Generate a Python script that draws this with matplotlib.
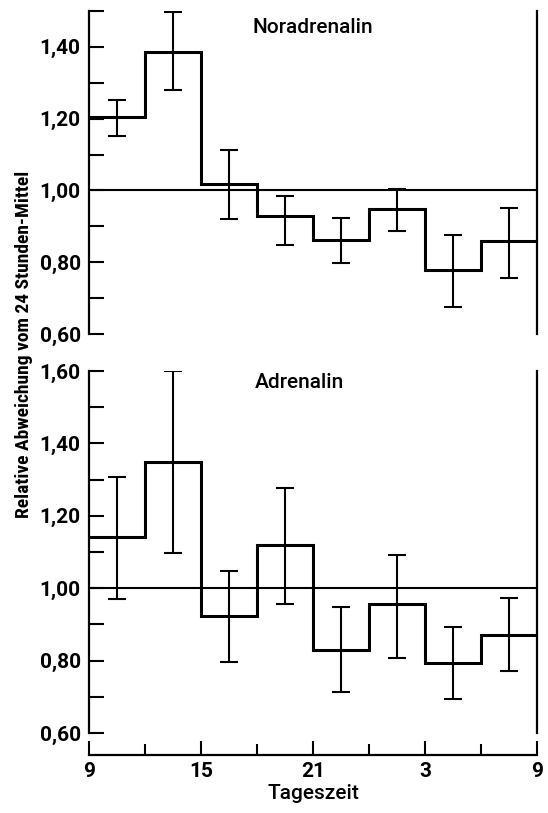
import matplotlib.pyplot as plt
from matplotlib.ticker import MultipleLocator, FixedLocator

plt.rcParams['font.family'] = ['Roboto', 'DejaVu Sans']
plt.rcParams['font.weight'] = 700
plt.rcParams['axes.labelweight'] = 700

# hours after 9 o'clock, 3-hour bins
edges = [0, 3, 6, 9, 12, 15, 18, 21, 24]
centers = [1.5, 4.5, 7.5, 10.5, 13.5, 16.5, 19.5, 22.5]
tick_pos = [0, 6, 12, 18, 24]
tick_labels = ["9", "15", "21", "3", "9"]

# Noradrenalin
nor_val = [1.205, 1.387, 1.018, 0.928, 0.861, 0.948, 0.777, 0.858]
nor_hi = [1.253, 1.497, 1.113, 0.985, 0.923, 1.005, 0.876, 0.951]
nor_lo = [1.151, 1.28, 0.92, 0.849, 0.798, 0.887, 0.674, 0.755]

# Adrenalin
adr_val = [1.141, 1.348, 0.924, 1.118, 0.828, 0.955, 0.793, 0.871]
adr_hi = [1.308, 1.60, 1.048, 1.277, 0.949, 1.091, 0.894, 0.972]
adr_lo = [0.97, 1.098, 0.796, 0.957, 0.713, 0.807, 0.693, 0.770]

fig = plt.figure(figsize=(5.48, 8.13), dpi=100)
ax1 = fig.add_axes([0.1624, 0.5892, 0.8175, 0.3973])
ax2 = fig.add_axes([0.1624, 0.0984, 0.8175, 0.4453])


def panel(ax, val, lo, hi, ymax, title, tx, ty):
    ax.stairs(val, edges, baseline=None, color="black", linewidth=2.2)
    yerr = [[v - l for v, l in zip(val, lo)], [h - v for v, h in zip(val, hi)]]
    ax.errorbar(centers, val, yerr=yerr, fmt="none", ecolor="black",
                elinewidth=1.5, capsize=6.5, capthick=1.5)
    ax.axhline(1.0, color="black", linewidth=1.5)
    ax.set_xlim(0, 24)
    ax.set_ylim(0.6, ymax)
    ax.yaxis.set_major_locator(MultipleLocator(0.2))
    ax.yaxis.set_minor_locator(MultipleLocator(0.1))
    ax.yaxis.set_major_formatter(lambda v, p: f"{v:.2f}".replace(".", ","))
    ax.tick_params(axis="y", which="both", direction="in", length=11,
                   width=1.5, labelsize=15, pad=6)
    ax.spines["top"].set_visible(False)
    for s in ["left", "right"]:
        ax.spines[s].set_linewidth(1.6)
    ax.text(tx, ty, title, ha="center", va="baseline", fontsize=15,
            fontweight=500)


panel(ax1, nor_val, nor_lo, nor_hi, 1.5, "Noradrenalin", 12.0, 1.439)
panel(ax2, adr_val, adr_lo, adr_hi, 1.6, "Adrenalin", 11.3, 1.553)

ax1.spines["bottom"].set_visible(False)
ax1.tick_params(axis="x", which="both", bottom=False, labelbottom=False)

ax2.spines["bottom"].set_position(("outward", 16))
ax2.spines["bottom"].set_linewidth(1.6)
ax2.xaxis.set_major_locator(FixedLocator(tick_pos))
ax2.xaxis.set_minor_locator(MultipleLocator(3))
ax2.set_xticklabels(tick_labels)
ax2.tick_params(axis="x", which="major", direction="in", length=10,
                width=1.5, labelsize=15, pad=5)
ax2.tick_params(axis="x", which="minor", direction="in", length=8, width=1.5)
ax2.set_xlabel("Tageszeit", fontsize=15, labelpad=2, fontweight=500)

fig.text(0.044, 0.577, "Relative Abweichung vom 24 Stunden-Mittel", rotation=90,
         ha="center", va="center", fontsize=14,
         family=["Roboto Condensed", "DejaVu Sans"], fontweight=700)

fig.savefig("out.png", dpi=100)
